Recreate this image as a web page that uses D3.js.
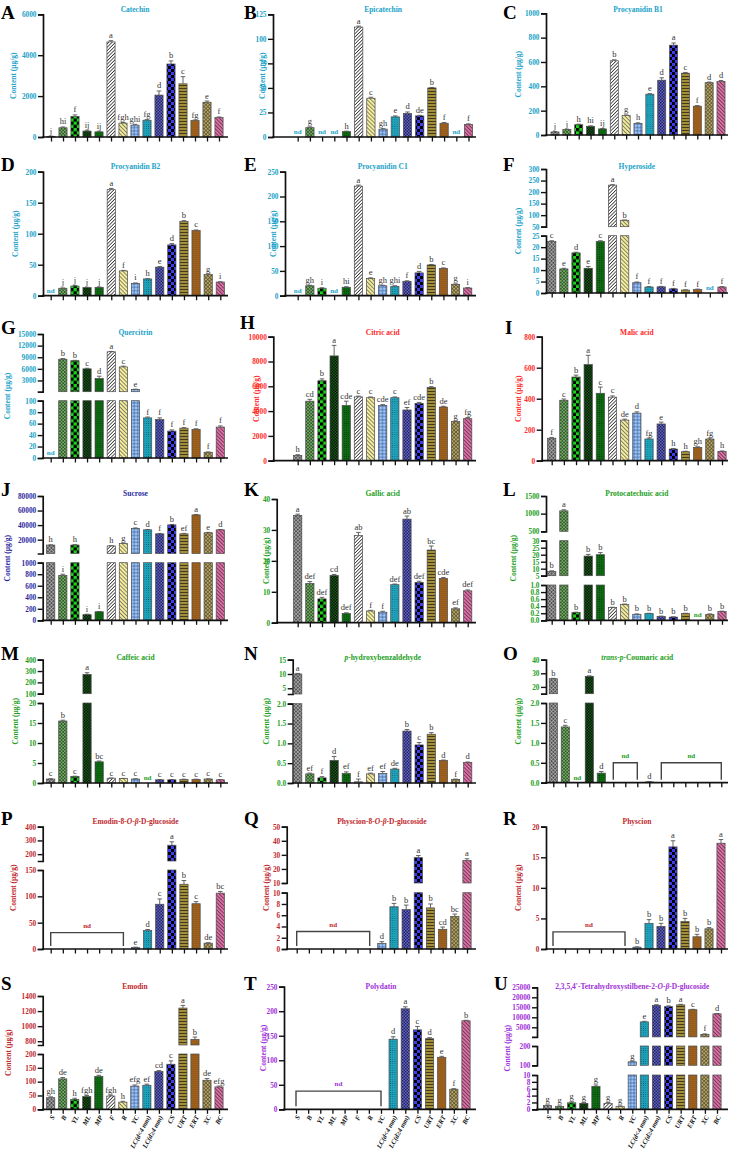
<!DOCTYPE html>
<html><head><meta charset="utf-8">
<script src="https://cdn.jsdelivr.net/npm/d3@7"></script>
<style>body{margin:0;background:#fff} svg text{font-family:"Liberation Serif","Times New Roman",serif}</style>
</head><body><svg id="c" width="731" height="1152"></svg>
<script>
const groups = ["S","B","YL","ML","MP","F","R","YC","LC(d<4 mm)","LC(d≥4 mm)","CS","URT","ERT","XC","BC"];
const N = null;
// values (µg/g), errors, significance letters (null = nd)
const catechin = [30,450,1000,290,250,4650,680,580,820,2050,3570,2600,800,1700,950];
const catechinErr = [10,40,80,40,30,60,30,40,30,200,150,350,30,60,30];
const catechinSig = ["j","hi","f","ij","ij","a","fgh","ghi","fg","d","b","c","fg","e","f"];
const epicatechin = [N,9.5,N,N,5.5,112,39.5,8,20.5,24,21.5,50,14,N,12.8];
const epicatechinErr = [0,0.8,0,0,0.5,1,1,0.5,1,1.5,0.6,0.5,0.8,0,0.6];
const epicatechinSig = ["","g","","","h","a","c","gh","e","d","de","b","f","","f"];
const procB1 = [25,45,85,72,50,610,160,95,335,450,738,508,237,430,440];
const procB1Err = [3,3,4,3,3,8,5,5,5,20,18,6,5,5,8];
const procB1Sig = ["j","j","h","hi","ij","b","g","h","e","d","a","c","f","d","d"];
const procB2 = [N,12,15.5,13,13.5,171,40,20,27,46,82,120,105,34,22];
const procB2Err = [0,0.5,1,0.5,0.5,2,0.8,0.5,0.5,1,2,1,1,1,0.5];
const procB2Sig = ["","j","j","j","j","a","f","i","h","e","d","b","c","g","i"];
const procC1 = [N,20,15,N,17,221,35,20,19,29,46,62,55,23,15.5];
const procC1Err = [0,1,1,0,1,2,1,1,1,1,3,1,1,0.8,0.8];
const procC1Sig = ["","gh","i","","hi","a","e","gh","ghi","f","d","b","c","g","i"];
const hyperoside = [22.5,10.5,17.5,10.8,22.5,230,78,4.5,2.6,2.7,1.8,1.3,1.5,N,2.6];
const hyperosideErr = [0.3,0.3,0.3,0.8,0.3,2,1,0.3,0.2,0.2,0.2,0.1,0.2,0,0.2];
const hyperosideSig = ["c","e","d","e","c","a","b","f","f","f","f","f","f","","f"];
const quercitrin = [N,8500,8100,6000,3500,10400,6500,700,70,67,47,52,50,10,54];
const quercitrinErr = [0,150,100,150,600,100,200,50,1.5,3,2,1,1,0.5,2];
const quercitrinSig = ["","b","b","c","d","a","c","e","f","f","f","f","f","f","f"];
const citric = [430,4800,6450,8450,4450,5150,5080,4460,5080,4090,4620,5910,4330,3150,3390];
const citricErr = [50,150,150,850,350,60,60,60,60,200,80,60,60,50,90];
const citricSig = ["h","cd","b","a","cde","c","c","cde","c","ef","cde","b","de","g","fg"];
const malic = [145,390,540,620,435,410,262,307,140,237,75,58,86,140,60];
const malicErr = [5,8,12,60,40,8,6,8,6,12,4,3,4,6,3];
const malicSig = ["f","c","b","a","c","c","de","d","fg","e","h","h","gh","fg","h"];
const sucrose = [12600,780,12600,98,148,11400,14800,35500,33500,28000,40300,28000,54000,29500,33500];
const sucroseErr = [300,20,600,8,5,300,400,600,500,600,600,600,600,500,500];
const sucroseSig = ["h","i","h","i","i","h","g","c","d","f","b","ef","a","e","d"];
const gallic = [34.7,12.7,7.7,15.3,3.0,28.2,3.8,3.4,12.3,33.5,13.0,23.5,14.3,4.5,10.3];
const gallicErr = [0.4,0.6,0.5,0.3,0.2,1,0.2,0.3,0.2,1,0.4,1.3,0.3,0.3,0.3];
const gallicSig = ["a","def","def","cd","def","ab","f","f","def","ab","def","bc","cde","ef","def"];
const protocat = [8,1080,0.22,19,20,0.36,0.45,0.17,0.19,0.11,0.09,0.19,N,0.17,0.25];
const protocatErr = [0.5,30,0.01,1.2,1.5,0.01,0.01,0.01,0.01,0.01,0.01,0.01,0,0.01,0.01];
const protocatSig = ["b","a","b","b","b","b","b","b","b","b","b","b","","b","b"];
const caffeic = [1.0,15.5,1.6,270,5.3,1.2,1.1,1.0,N,0.8,0.8,0.9,0.9,1.0,0.8];
const caffeicErr = [0.05,0.2,0.1,15,0.2,0.05,0.05,0.05,0,0.05,0.05,0.05,0.05,0.05,0.05];
const caffeicSig = ["c","b","c","a","bc","c","c","c","","c","c","c","c","c","c"];
const phba = [10,0.23,0.13,0.57,0.24,0.03,0.23,0.24,0.35,1.31,0.96,1.23,0.57,0.09,0.52];
const phbaErr = [0.2,0.02,0.03,0.1,0.04,0.07,0.02,0.05,0.02,0.04,0.06,0.04,0.01,0.01,0.01];
const phbaSig = ["a","ef","f","d","ef","f","ef","ef","de","b","c","b","d","f","d"];
const coumaric = [26,1.4,N,27.8,0.24,N,N,N,0.02,N,N,N,N,N,N];
const coumaricErr = [0.3,0.04,0,0.3,0.04,0,0,0,0.005,0,0,0,0,0,0];
const coumaricSig = ["b","c","","a","d","","","","d","","","","","",""];
const emodinGlc = [N,N,N,N,N,N,N,3,35,85,265,123,86,11,106];
const emodinGlcErr = [0,0,0,0,0,0,0,0.5,2,10,25,7,4,1,3];
const emodinGlcSig = ["","","","","","","","e","d","c","a","b","c","de","bc"];
const physcionGlc = [N,N,N,N,N,N,N,1.0,7.5,7.0,28,7.3,3.5,5.8,26];
const physcionGlcErr = [0,0,0,0,0,0,0,0.3,0.6,0.8,1.5,0.7,0.4,0.4,1.2];
const physcionGlcSig = ["","","","","","","","d","b","b","a","b","cd","bc","a"];
const physcion = [N,N,N,N,N,N,N,0.3,4.2,3.7,16.7,4.5,2.0,3.3,17.3];
const physcionErr = [0,0,0,0,0,0,0,0.05,0.6,0.5,1,0.5,0.4,0.2,0.6];
const physcionSig = ["","","","","","","","b","b","b","a","b","b","b","a"];
const emodin = [42,110,36,46,119,48,26,84,87,137,163,1240,825,105,81];
const emodinErr = [3,5,4,4,4,3,3,4,4,3,12,35,30,6,3];
const emodinSig = ["gh","de","h","fgh","de","fgh","h","efg","ef","cd","c","a","b","de","efg"];
const polydatin = [N,N,N,N,N,N,N,N,143,205,162,144,106,41,180.5];
const polydatinErr = [0,0,0,0,0,0,0,0,5,4,7,2,2,1,1];
const polydatinSig = ["","","","","","","","","d","a","c","d","e","f","b"];
const thsg = [1.07,0.8,1.9,1.75,6.7,1.75,0.8,118,7700,16000,15300,16200,13800,1500,11700];
const thsgErr = [0.2,0.2,0.3,0.2,0.4,0.2,0.2,4,300,300,400,300,200,200,200];
const thsgSig = ["g","g","g","g","g","g","g","g","e","a","b","a","c","f","d"];

const TEAL="#22a3c9", RED="#ff2a2a", NAVY="#2b2b9e", GREEN="#23a023", CRIM="#c0272d", PURP="#a030d8";
const r = (a,b,s)=>d3.range(a,b+s/2,s);
const panels = [
 {id:"A",t:"Catechin",c:TEAL,v:catechin,e:catechinErr,s:catechinSig,dom:[[0,6000]],tk:[r(0,6000,2000)]},
 {id:"B",t:"Epicatechin",c:TEAL,v:epicatechin,e:epicatechinErr,s:epicatechinSig,dom:[[0,125]],tk:[r(0,125,25)]},
 {id:"C",t:"Procyanidin B1",c:TEAL,v:procB1,e:procB1Err,s:procB1Sig,dom:[[0,1000]],tk:[r(0,1000,200)]},
 {id:"D",t:"Procyanidin B2",c:TEAL,v:procB2,e:procB2Err,s:procB2Sig,dom:[[0,200]],tk:[r(0,200,50)]},
 {id:"E",t:"Procyanidin C1",c:TEAL,v:procC1,e:procC1Err,s:procC1Sig,dom:[[0,250]],tk:[r(0,250,50)]},
 {id:"F",t:"Hyperoside",c:TEAL,v:hyperoside,e:hyperosideErr,s:hyperosideSig,dom:[[0,25],[50,300]],tk:[r(0,25,5),r(50,300,50)]},
 {id:"G",t:"Quercitrin",c:TEAL,v:quercitrin,e:quercitrinErr,s:quercitrinSig,dom:[[0,100],[100,15000]],tk:[r(0,100,20),r(3000,15000,3000)]},
 {id:"H",t:"Citric acid",c:RED,v:citric,e:citricErr,s:citricSig,dom:[[0,10000]],tk:[r(0,10000,2000)]},
 {id:"I",t:"Malic acid",c:RED,v:malic,e:malicErr,s:malicSig,dom:[[0,800]],tk:[r(0,800,200)]},
 {id:"J",t:"Sucrose",c:NAVY,v:sucrose,e:sucroseErr,s:sucroseSig,dom:[[0,1000],[1000,80000]],tk:[r(0,1000,200),r(20000,80000,20000)]},
 {id:"K",t:"Gallic acid",c:GREEN,v:gallic,e:gallicErr,s:gallicSig,dom:[[0,40]],tk:[r(0,40,10)]},
 {id:"L",t:"Protocatechuic acid",c:GREEN,v:protocat,e:protocatErr,s:protocatSig,dom:[[0,1],[5,30],[500,1500]],tk:[r(0,1,0.2),r(5,30,5),r(500,1500,500)]},
 {id:"M",t:"Caffeic acid",c:GREEN,v:caffeic,e:caffeicErr,s:caffeicSig,dom:[[0,20],[100,400]],tk:[r(0,20,5),r(100,400,100)]},
 {id:"N",t:"*p*-hydroxybenzaldehyde",c:GREEN,v:phba,e:phbaErr,s:phbaSig,dom:[[0,2],[3,15]],tk:[r(0,2,0.5),r(5,15,5)]},
 {id:"O",t:"*trans*-*p*-Coumaric acid",c:GREEN,v:coumaric,e:coumaricErr,s:coumaricSig,dom:[[0,2],[15,40]],tk:[r(0,2,0.5),r(20,40,10)],br:[[5,7,0.5],[9,14,0.5]]},
 {id:"P",t:"Emodin-8-*O*-*β*-D-glucoside",c:CRIM,v:emodinGlc,e:emodinGlcErr,s:emodinGlcSig,dom:[[0,150],[150,400]],tk:[r(0,150,50),r(200,400,100)],br:[[0,6,31]]},
 {id:"Q",t:"Physcion-8-*O*-*β*-D-glucoside",c:CRIM,v:physcionGlc,e:physcionGlcErr,s:physcionGlcSig,dom:[[0,10],[10,50]],tk:[r(0,10,2),r(10,50,10)],br:[[0,6,3.1]]},
 {id:"R",t:"Physcion",c:CRIM,v:physcion,e:physcionErr,s:physcionSig,dom:[[0,20]],tk:[r(0,20,5)],br:[[0,6,2.8]]},
 {id:"S",t:"Emodin",c:CRIM,v:emodin,e:emodinErr,s:emodinSig,dom:[[0,200],[750,1400]],tk:[r(0,200,50),r(800,1400,200)]},
 {id:"T",t:"Polydatin",c:PURP,v:polydatin,e:polydatinErr,s:polydatinSig,dom:[[0,250]],tk:[r(0,250,50)],br:[[0,7,37]]},
 {id:"U",t:"2,3,5,4'-Tetrahydroxystilbene-2-*O*-*β*-D-glucoside",c:PURP,v:thsg,e:thsgErr,s:thsgSig,dom:[[0,10],[100,200],[200,25000]],tk:[r(0,10,2),[100,200],r(5000,25000,5000)]}
];

// layout (pixels): axis x, axis end, first/last bar centre, y-label x, letter pos, title baseline, segment pixel ranges [bottom, top]
const layout = {
 A:{ax:43,end:228,b0:51,b1:219,yl:13,lx:1,ly:19,ty:12,sg:[[137,14.3]]},
 B:{ax:273,end:476,b0:297.7,b1:468.5,yl:262,lx:244,ly:19,ty:12,sg:[[137,14.3]]},
 C:{ax:546,end:728,b0:555,b1:721,yl:518,lx:503,ly:19,ty:12,sg:[[135,13.3]]},
 D:{ax:43,end:228,b0:50.7,b1:220.3,yl:15,lx:1,ly:171,ty:169,sg:[[295.7,171.7]]},
 E:{ax:285,end:476,b0:297.7,b1:467.7,yl:273,lx:244,ly:171,ty:169,sg:[[295.7,171.7]]},
 F:{ax:546,end:728,b0:551.7,b1:722,yl:518,lx:503,ly:171,ty:169,sg:[[293,235.7],[226.7,169]]},
 G:{ax:42.7,end:228,b0:50.7,b1:220.3,yl:7.5,lx:1,ly:334,ty:334.5,sg:[[458,400.7],[391.7,334]]},
 H:{ax:273.3,end:476,b0:297.7,b1:467.7,yl:256,lx:240,ly:329,ty:335,sg:[[460.7,336.7]]},
 I:{ax:541.7,end:728,b0:551.7,b1:722,yl:518,lx:505,ly:334,ty:335,sg:[[460.7,336.7]]},
 J:{ax:42.7,end:228,b0:50.7,b1:220.3,yl:7.5,lx:1,ly:496,ty:496,sg:[[620.3,562.7],[553.5,496]]},
 K:{ax:276.7,end:476,b0:297.7,b1:467.7,yl:266.7,lx:244,ly:496,ty:496,sg:[[622.7,499]]},
 L:{ax:546,end:728,b0:551.7,b1:722,yl:513,lx:503,ly:496,ty:496,sg:[[620.3,585],[575.7,540.7],[531.3,496]]},
 M:{ax:42.7,end:228,b0:50.7,b1:220.3,yl:15,lx:1,ly:660,ty:659.5,sg:[[783,703],[693.7,659.7]]},
 N:{ax:292.7,end:476,b0:297.7,b1:467.7,yl:266.7,lx:244,ly:660,ty:659.5,sg:[[783,703.7],[694,659.7]]},
 O:{ax:546,end:728,b0:553.3,b1:721.3,yl:518,lx:503,ly:660,ty:659.5,sg:[[782.7,703],[693.7,659.7]]},
 P:{ax:42.7,end:228,b0:50.7,b1:220.3,yl:13.3,lx:1,ly:825,ty:824,sg:[[949,870],[861,826.7]]},
 Q:{ax:286.7,end:476,b0:296.7,b1:467,yl:266.7,lx:244,ly:825,ty:824,sg:[[949,892.7],[883,826.7]]},
 R:{ax:546,end:728,b0:553,b1:721,yl:518,lx:503,ly:825,ty:824,sg:[[949,826.7]]},
 S:{ax:42.7,end:228,b0:50.7,b1:219,yl:8,lx:1,ly:990,ty:989,sg:[[1109.3,1054],[1045,996]],xl:true},
 T:{ax:284,end:476,b0:296,b1:466,yl:263,lx:244,ly:990,ty:989,sg:[[1109.3,986.7]],xl:true},
 U:{ax:537,end:728,b0:547.5,b1:717,yl:507,lx:494,ly:990,ty:989,sg:[[1109.3,1075],[1065.3,1046],[1036.9,987.3]],xl:true}
};

const patt = [
 {bg:"#505050",fg:"#c8c8c8",k:"cross",s:2.6,w:0.55},
 {bg:"#7aaa6b",fg:"#2e5a27",k:"check",s:1.6},
 {bg:"#1ed21e",fg:"#000",k:"check",s:3.2},
 {bg:"#1f6e20",fg:"#000",k:"check",s:1.4},
 {bg:"#0e6a12",fg:"#022a05",k:"dots",s:2.2,r:0.45},
 {bg:"#fff",fg:"#333",k:"diag",s:2.4,w:0.8},
 {bg:"#f5ef9a",fg:"#555",k:"diagL",s:2.8,w:0.7},
 {bg:"#9fc9f3",fg:"#2a4c9a",k:"grid",s:3.4,w:0.6},
 {bg:"#1ea3bc",fg:"#0b4a5a",k:"dots",s:2.2,r:0.45},
 {bg:"#6264b8",fg:"#22236a",k:"check",s:1.5},
 {bg:"#3d3df0",fg:"#000",k:"check",s:3},
 {bg:"#a38f3a",fg:"#2a2410",k:"hline",s:3,w:0.8},
 {bg:"#ad6a20",fg:"#4a2a08",k:"dots",s:2,r:0.5},
 {bg:"#b8a96a",fg:"#4a4020",k:"cross",s:2.6,w:0.6},
 {bg:"#d873a4",fg:"#5a2040",k:"diagL",s:2.6,w:0.7}
];

const svg = d3.select("#c");
const defs = svg.append("defs");
patt.forEach((p,i)=>{
  const pat = defs.append("pattern").attr("id","p"+i).attr("patternUnits","userSpaceOnUse");
  const s = p.s;
  if (p.k==="check"){
    pat.attr("width",2*s).attr("height",2*s);
    pat.append("rect").attr("width",2*s).attr("height",2*s).attr("fill",p.bg);
    pat.append("rect").attr("width",s).attr("height",s).attr("fill",p.fg);
    pat.append("rect").attr("x",s).attr("y",s).attr("width",s).attr("height",s).attr("fill",p.fg);
    return;
  }
  pat.attr("width",s).attr("height",s);
  pat.append("rect").attr("width",s).attr("height",s).attr("fill",p.bg);
  if (p.k==="diag"||p.k==="cross") pat.attr("patternTransform","rotate(45)");
  if (p.k==="diagL") pat.attr("patternTransform","rotate(-45)");
  if (["diag","diagL","cross","grid"].includes(p.k))
    pat.append("line").attr("x1",s/2).attr("x2",s/2).attr("y1",0).attr("y2",s).attr("stroke",p.fg).attr("stroke-width",p.w);
  if (["cross","grid","hline"].includes(p.k))
    pat.append("line").attr("y1",s/2).attr("y2",s/2).attr("x1",0).attr("x2",s).attr("stroke",p.fg).attr("stroke-width",p.w);
  if (p.k==="dots")
    pat.append("circle").attr("cx",s/2).attr("cy",s/2).attr("r",p.r).attr("fill",p.fg);
});

function richText(sel, str){
  str.split("*").forEach((part,i)=>{ if(part) sel.append("tspan").attr("font-style", i%2? "italic":null).text(part); });
}

panels.forEach(p=>{
  const L = layout[p.id];
  const g = svg.append("g");
  const x = d3.scalePoint().domain(groups).range([L.b0, L.b1]);
  const bw = x.step()*0.68;
  const ys = p.dom.map((d,k)=> d3.scaleLinear().domain(d).range(L.sg[k]));
  const zero = ys[0](0);

  // panel letter and title
  g.append("text").attr("x",L.lx).attr("y",L.ly).attr("font-size",19).attr("font-weight","bold").text(p.id);
  richText(g.append("text").attr("x",(L.b0+L.b1)/2).attr("y",L.ty).attr("text-anchor","middle")
    .attr("font-size",7.5).attr("font-weight","bold").attr("fill",p.c), p.t);

  // y axes (one per segment)
  ys.forEach((y,k)=>{
    const fmt = p.tk[k].some(v=>v%1!==0) ? d3.format(".1f") : d3.format("d");
    const ax = g.append("g").attr("transform",`translate(${L.ax},0)`)
      .call(d3.axisLeft(y).tickValues(p.tk[k]).tickSize(5).tickSizeOuter(5).tickFormat(fmt));
    ax.select(".domain").attr("stroke","#111").attr("stroke-width",1.7);
    ax.selectAll(".tick line").attr("stroke","#111").attr("stroke-width",1.4);
    ax.selectAll(".tick text").attr("fill",p.c).attr("font-size",7.3).attr("font-weight","bold")
      .attr("font-family","Liberation Serif, serif").attr("x",-6.5);
  });
  // y label
  g.append("text").attr("transform",`translate(${L.yl},${(L.sg[0][0]+L.sg[L.sg.length-1][1])/2}) rotate(-90)`)
    .attr("text-anchor","middle").attr("dominant-baseline","central").attr("font-size",7.5)
    .attr("font-weight","bold").attr("fill",p.c).text("Content (μg/g)");

  // bars
  p.v.forEach((v,i)=>{
    if (v==null) return;
    const cx = x(groups[i]);
    ys.forEach((y,k)=>{
      const [d0,d1] = y.domain();
      const lo = k===0 ? 0 : d0;
      if (v<=lo) return;
      const top = Math.min(v,d1);
      g.append("rect").attr("x",cx-bw/2).attr("width",bw).attr("y",y(top)).attr("height",Math.max(0.6,y(lo)-y(top)))
        .attr("fill",`url(#p${i})`).attr("stroke","#4a4a4a").attr("stroke-width",0.7);
    });
    // error bar + letter in the segment holding the value
    let k = ys.findIndex(y=> v<=y.domain()[1]);
    if (k<0) k = ys.length-1;
    const y = ys[k];
    const te = Math.min(v+p.e[i], y.domain()[1]);
    g.append("path").attr("d",`M${cx},${y(v)}V${y(te)}M${cx-bw*0.28},${y(te)}H${cx+bw*0.28}`)
      .attr("stroke","#555").attr("stroke-width",0.9).attr("fill","none");
    g.append("text").attr("x",cx).attr("y",y(te)-2.5).attr("text-anchor","middle").attr("font-size",8.5)
      .attr("fill","#333").text(p.s[i]);
  });

  // nd markers
  const br = p.br || [];
  p.v.forEach((v,i)=>{
    if (v!=null || br.some(b=>i>=b[0]&&i<=b[1])) return;
    g.append("text").attr("x",x(groups[i])).attr("y",zero-3).attr("text-anchor","middle").attr("font-size",7)
      .attr("font-weight","bold").attr("fill",p.c).text("nd");
  });
  br.forEach(b=>{
    const x1 = x(groups[b[0]]), x2 = x(groups[b[1]]), yb = ys[0](b[2]);
    g.append("path").attr("d",`M${x1},${zero-3}V${yb}H${x2}V${zero-3}`).attr("stroke","#444")
      .attr("stroke-width",1.4).attr("fill","none");
    g.append("text").attr("x",(x1+x2)/2).attr("y",yb-5).attr("text-anchor","middle").attr("font-size",7)
      .attr("font-weight","bold").attr("fill",p.c).text("nd");
  });

  // x axis
  const xa = g.append("g").attr("transform",`translate(0,${zero})`)
    .call(d3.axisBottom(x).tickSize(4.5).tickSizeOuter(0).tickFormat(""));
  xa.select(".domain").remove();
  xa.selectAll(".tick line").attr("stroke","#111").attr("stroke-width",1.3);
  g.append("line").attr("x1",L.ax-0.8).attr("x2",L.end).attr("y1",zero).attr("y2",zero)
    .attr("stroke","#111").attr("stroke-width",1.7);
  if (L.xl){
    groups.forEach(gr=>{
      g.append("text").attr("transform",`translate(${x(gr)+2},${zero+6.5}) rotate(-62)`)
        .attr("text-anchor","end").attr("dominant-baseline","central").attr("font-size",6.8)
        .attr("font-weight","bold").attr("font-style","italic").attr("fill","#111").text(gr);
    });
  }
});
</script></body></html>
